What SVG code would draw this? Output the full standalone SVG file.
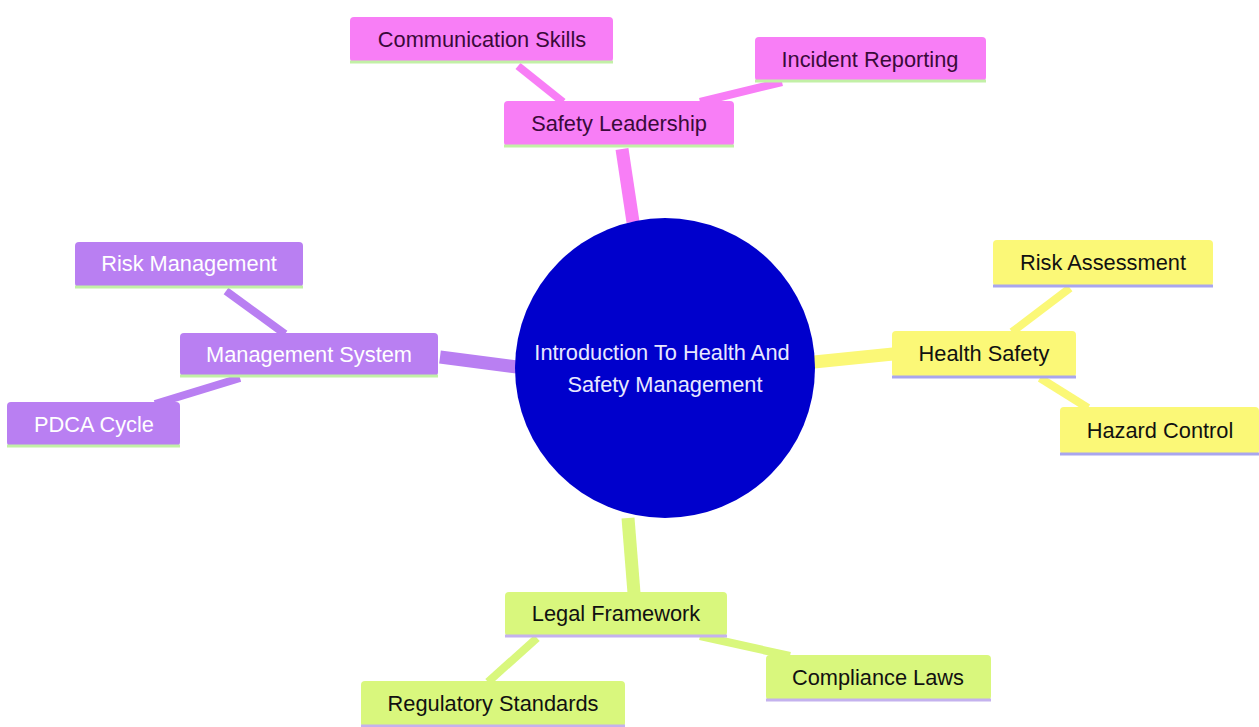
<svg xmlns="http://www.w3.org/2000/svg" width="1259" height="727" viewBox="0 0 1259 727">
<style>
text{font-family:"Liberation Sans",Arial,sans-serif;font-size:21.8px;text-anchor:middle;dominant-baseline:central}
.e{fill:none;stroke-linecap:butt}
.pk{fill:#f87ef6}.pkl{stroke:#f87ef6}.pkt{fill:#3a0a3a}
.pu{fill:#b97ff2}.pul{stroke:#b97ff2}.put{fill:#ffffff}
.ye{fill:#fbf877}.yel{stroke:#fbf877}.yet{fill:#111111}
.gr{fill:#d9f77d}.grl{stroke:#d9f77d}.grt{fill:#111111}
.bg{stroke:#c2f0a6;stroke-width:3}
.bb{stroke:#a9a6ee;stroke-width:3}
.bp{stroke:#c4b2ee;stroke-width:3}
</style>
<rect width="1259" height="727" fill="#ffffff"/>
<g id="connectors">
<path class="e pkl" d="M633 222 L622 149" stroke-width="13"/>
<path class="e pul" d="M517 367 L440 357" stroke-width="13"/>
<path class="e yel" d="M814 362 L893 354" stroke-width="13"/>
<path class="e grl" d="M628 518 L634 593" stroke-width="13"/>
<path class="e pkl" d="M563 102 L518 66" stroke-width="8"/>
<path class="e pkl" d="M700 102 L782 82" stroke-width="8"/>
<path class="e pul" d="M285 334 L226 291" stroke-width="8"/>
<path class="e pul" d="M240 378 L155 404" stroke-width="8"/>
<path class="e yel" d="M1012 332 L1070 288" stroke-width="8"/>
<path class="e yel" d="M1040 378 L1088 408" stroke-width="8"/>
<path class="e grl" d="M537 638 L488 682" stroke-width="8"/>
<path class="e grl" d="M700 636 L790 656" stroke-width="8"/>
</g>
<g id="root">
<circle cx="665" cy="368" r="150" fill="#0000cc"/>
<text x="662" y="352" fill="#e8e8ff">Introduction To Health And</text>
<text x="665" y="384" fill="#e8e8ff">Safety Management</text>
</g>
<g id="safety-leadership">
<rect class="pk" x="504" y="101" width="230" height="45" rx="4"/>
<line class="bg" x1="504" y1="146" x2="734" y2="146"/>
<text class="pkt" x="619" y="123">Safety Leadership</text>
</g>
<g id="communication-skills">
<rect class="pk" x="350" y="17" width="263" height="45" rx="4"/>
<line class="bg" x1="350" y1="62" x2="613" y2="62"/>
<text class="pkt" x="482" y="39">Communication Skills</text>
</g>
<g id="incident-reporting">
<rect class="pk" x="755" y="37" width="231" height="44" rx="4"/>
<line class="bg" x1="755" y1="81" x2="986" y2="81"/>
<text class="pkt" x="870" y="59">Incident Reporting</text>
</g>
<g id="management-system">
<rect class="pu" x="180" y="333" width="258" height="43" rx="4"/>
<line class="bg" x1="180" y1="376" x2="438" y2="376"/>
<text class="put" x="309" y="354">Management System</text>
</g>
<g id="risk-management">
<rect class="pu" x="75" y="242" width="228" height="45" rx="4"/>
<line class="bg" x1="75" y1="287" x2="303" y2="287"/>
<text class="put" x="189" y="263">Risk Management</text>
</g>
<g id="pdca-cycle">
<rect class="pu" x="7" y="402" width="173" height="44" rx="4"/>
<line class="bg" x1="7" y1="446" x2="180" y2="446"/>
<text class="put" x="94" y="424">PDCA Cycle</text>
</g>
<g id="health-safety">
<rect class="ye" x="892" y="331" width="184" height="46" rx="4"/>
<line class="bb" x1="892" y1="377" x2="1076" y2="377"/>
<text class="yet" x="984" y="353">Health Safety</text>
</g>
<g id="risk-assessment">
<rect class="ye" x="993" y="240" width="220" height="46" rx="4"/>
<line class="bb" x1="993" y1="286" x2="1213" y2="286"/>
<text class="yet" x="1103" y="262">Risk Assessment</text>
</g>
<g id="hazard-control">
<rect class="ye" x="1060" y="407" width="199" height="47" rx="4"/>
<line class="bb" x1="1060" y1="454" x2="1259" y2="454"/>
<text class="yet" x="1160" y="430">Hazard Control</text>
</g>
<g id="legal-framework">
<rect class="gr" x="505" y="592" width="222" height="44" rx="4"/>
<line class="bp" x1="505" y1="636" x2="727" y2="636"/>
<text class="grt" x="616" y="613">Legal Framework</text>
</g>
<g id="compliance-laws">
<rect class="gr" x="766" y="655" width="225" height="45" rx="4"/>
<line class="bp" x1="766" y1="700" x2="991" y2="700"/>
<text class="grt" x="878" y="677">Compliance Laws</text>
</g>
<g id="regulatory-standards">
<rect class="gr" x="361" y="681" width="264" height="46" rx="4"/>
<line class="bp" x1="361" y1="726" x2="625" y2="726"/>
<text class="grt" x="493" y="703">Regulatory Standards</text>
</g>
</svg>
